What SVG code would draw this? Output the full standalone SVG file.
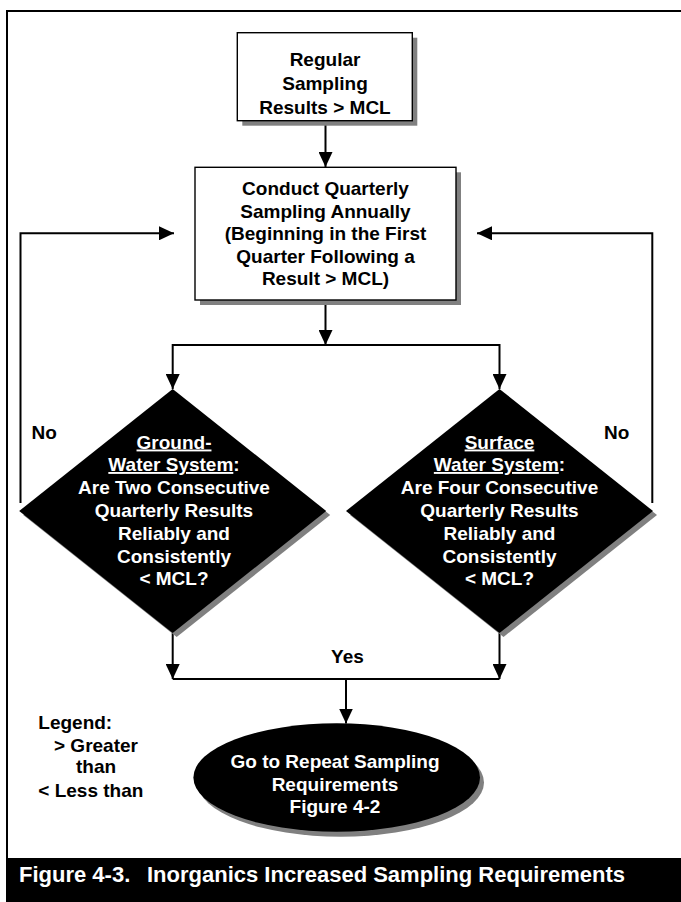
<svg xmlns="http://www.w3.org/2000/svg" width="681" height="902" viewBox="0 0 681 902">
  <style>
    text { font-family: "Liberation Sans", Arial, sans-serif; font-weight: bold; font-size: 19px; }
    .dark { fill: #000000; }
    .light { fill: #ffffff; }
    .mid { text-anchor: middle; }
    .box { fill: #ffffff; stroke: #000000; stroke-width: 1.4; }
    .shadow { fill: #808080; }
    .shape { fill: #000000; }
    .wire { fill: none; stroke: #000000; stroke-width: 2; }
    .ul { text-decoration: underline; }
  </style>
  <defs>
    <marker id="arrow" viewBox="0 0 15 14" refX="15" refY="7" markerWidth="15" markerHeight="14" markerUnits="userSpaceOnUse" orient="auto">
      <path d="M0,0 L15,7 L0,14 Z" fill="#000000"/>
    </marker>
  </defs>

  <rect width="681" height="902" fill="#ffffff"/>

  <!-- page frame and caption band -->
  <g id="frame">
    <path d="M7,858 V11 H681" fill="none" stroke="#000000" stroke-width="2"/>
    <rect x="6" y="858" width="675" height="44" fill="#000000"/>
    <text x="19" y="882" class="light" style="font-size:22px">Figure 4-3.</text>
    <text x="147" y="882" class="light" style="font-size:22px">Inorganics Increased Sampling Requirements</text>
  </g>

  <!-- connectors -->
  <g id="connectors">
    <line class="wire" x1="325.5" y1="121" x2="325.5" y2="167" marker-end="url(#arrow)"/>
    <line class="wire" x1="325.5" y1="300" x2="325.5" y2="345" marker-end="url(#arrow)"/>
    <line class="wire" x1="172.7" y1="345" x2="499.5" y2="345"/>
    <line class="wire" x1="172.7" y1="344" x2="172.7" y2="389" marker-end="url(#arrow)"/>
    <line class="wire" x1="499.5" y1="344" x2="499.5" y2="389" marker-end="url(#arrow)"/>
    <line class="wire" x1="172.7" y1="633" x2="172.7" y2="679" marker-end="url(#arrow)"/>
    <line class="wire" x1="499.5" y1="633" x2="499.5" y2="679" marker-end="url(#arrow)"/>
    <line class="wire" x1="172.7" y1="679" x2="499.5" y2="679"/>
    <line class="wire" x1="346" y1="679" x2="346" y2="723.5" marker-end="url(#arrow)"/>
    <path class="wire" d="M20.5,503 V233.3 H174" marker-end="url(#arrow)"/>
    <path class="wire" d="M652.3,503 V233.3 H477" marker-end="url(#arrow)"/>
    <text x="31.5" y="438.5" class="dark">No</text>
    <text x="604" y="438.5" class="dark">No</text>
    <text x="347.5" y="662.5" class="dark mid">Yes</text>
  </g>

  <!-- start: regular sampling result -->
  <g id="regular-results">
    <rect class="shadow" x="242.3" y="37.7" width="175" height="88"/>
    <rect class="box" x="237.3" y="32.7" width="175" height="88"/>
    <text class="dark mid" x="325" y="66">Regular</text>
    <text class="dark mid" x="325" y="90">Sampling</text>
    <text class="dark mid" x="325" y="114.3">Results &gt; MCL</text>
  </g>

  <!-- quarterly sampling step -->
  <g id="quarterly-sampling">
    <rect class="shadow" x="200" y="172.3" width="261" height="132.7"/>
    <rect class="box" x="195" y="167.3" width="261" height="132.7"/>
    <text class="dark mid" x="325.5" y="195">Conduct Quarterly</text>
    <text class="dark mid" x="325.5" y="217.5">Sampling Annually</text>
    <text class="dark mid" x="325.5" y="240">(Beginning in the First</text>
    <text class="dark mid" x="325.5" y="262.7">Quarter Following a</text>
    <text class="dark mid" x="325.5" y="285">Result &gt; MCL)</text>
  </g>

  <!-- ground-water decision -->
  <g id="ground-water">
    <polygon class="shadow" points="176.7,393 330.2,515 176.7,637 23.2,515"/>
    <polygon class="shape" points="172.7,389 326.2,511 172.7,633 19.2,511"/>
    <text class="light mid" x="174" y="448.5"><tspan class="ul">Ground-</tspan></text>
    <text class="light mid" x="174" y="471"><tspan class="ul">Water System</tspan>:</text>
    <text class="light mid" x="174" y="493.5">Are Two Consecutive</text>
    <text class="light mid" x="174" y="516.5">Quarterly Results</text>
    <text class="light mid" x="174" y="539.5">Reliably and</text>
    <text class="light mid" x="174" y="562.5">Consistently</text>
    <text class="light mid" x="174" y="585">&lt; MCL?</text>
  </g>

  <!-- surface-water decision -->
  <g id="surface-water">
    <polygon class="shadow" points="503.5,393 657,515 503.5,637 350,515"/>
    <polygon class="shape" points="499.5,389 653,511 499.5,633 346,511"/>
    <text class="light mid" x="499.5" y="448.5"><tspan class="ul">Surface</tspan></text>
    <text class="light mid" x="499.5" y="471"><tspan class="ul">Water System</tspan>:</text>
    <text class="light mid" x="499.5" y="493.5">Are Four Consecutive</text>
    <text class="light mid" x="499.5" y="516.5">Quarterly Results</text>
    <text class="light mid" x="499.5" y="539.5">Reliably and</text>
    <text class="light mid" x="499.5" y="562.5">Consistently</text>
    <text class="light mid" x="499.5" y="585">&lt; MCL?</text>
  </g>

  <!-- end: repeat sampling -->
  <g id="repeat-sampling">
    <ellipse class="shadow" cx="340.7" cy="782.5" rx="143.3" ry="54.2"/>
    <ellipse class="shape" cx="336.7" cy="777.5" rx="143.3" ry="54.2"/>
    <text class="light mid" x="335" y="768.3">Go to Repeat Sampling</text>
    <text class="light mid" x="335" y="790.7">Requirements</text>
    <text class="light mid" x="335" y="813.3">Figure 4-2</text>
  </g>

  <!-- symbol key -->
  <g id="legend">
    <text class="dark" x="38.3" y="729.3">Legend:</text>
    <text class="dark" x="54" y="751.7">&gt; Greater</text>
    <text class="dark" x="76" y="773.3">than</text>
    <text class="dark" x="38.3" y="796.7">&lt; Less than</text>
  </g>
</svg>
